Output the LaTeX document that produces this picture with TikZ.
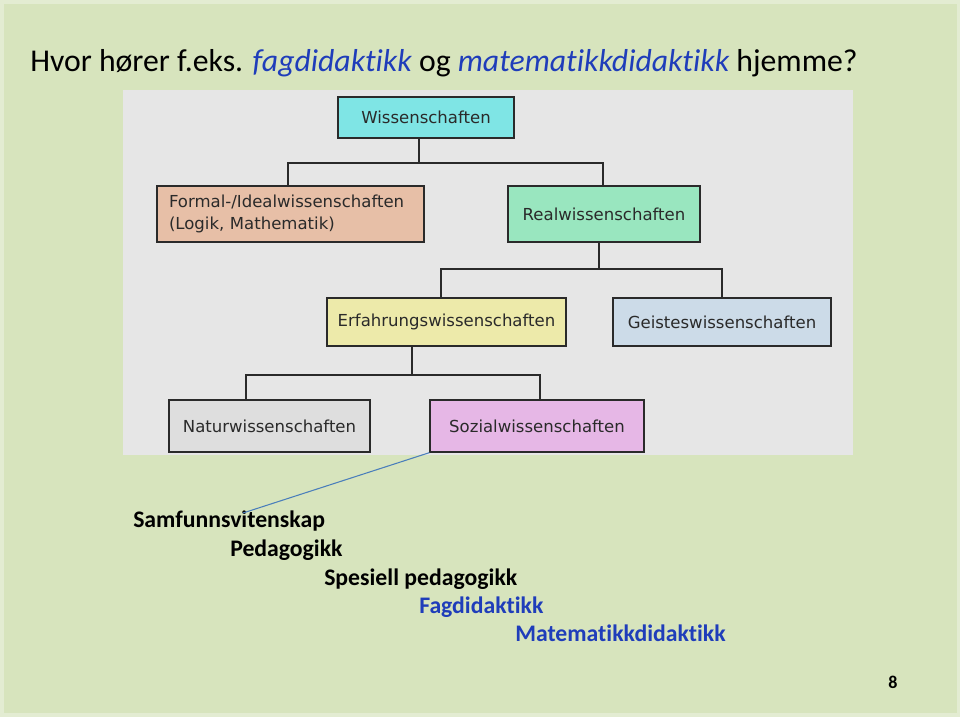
\documentclass[tikz,border=0pt]{standalone}
\usepackage{fontspec}
\setmainfont{Carlito}[Ligatures=NoCommon]
\newfontfamily\boxfont{DejaVu Sans}
\usepackage{xcolor}
\usepackage{tikz}
\usetikzlibrary{positioning}
\definecolor{slide}{HTML}{D7E4BD}
\definecolor{slideedge}{HTML}{E3ECD2}
\definecolor{panel}{HTML}{E6E6E6}
\definecolor{ink}{HTML}{2A2A2A}
\definecolor{blu}{HTML}{1F3DBA}
\definecolor{pointer}{HTML}{4A7EBB}
\definecolor{cwiss}{HTML}{7FE5E5}
\definecolor{cformal}{HTML}{E7BFA7}
\definecolor{creal}{HTML}{99E6BF}
\definecolor{cerf}{HTML}{EDEAAA}
\definecolor{cgeist}{HTML}{CCDBE8}
\definecolor{cnatur}{HTML}{DEDEDE}
\definecolor{csozial}{HTML}{E6B7E6}
\tikzset{
  box/.style={draw=ink, line width=1pt, inner sep=0pt, text=ink,
    font=\boxfont\fontsize{12.4}{16.5}\selectfont},
  link/.style={draw=ink, line width=1pt},
  hint/.style={draw=pointer, line width=0.8pt},
  lev/.style={anchor=base west, inner sep=0pt, font=\bfseries\fontsize{17.8}{20}\selectfont},
}
\begin{document}
\begin{tikzpicture}[x=0.75pt, y=-0.75pt]
\useasboundingbox (0,0) rectangle (960,717);
\fill[slideedge] (0,0) rectangle (960,717);
\fill[slide] (4,4) rectangle (957,713);
\fill[panel] (123,90) rectangle (853,455);
\node[anchor=base west, inner sep=0pt, font=\fontsize{23.8}{28}\selectfont] (title) at (30,72)
  {Hvor hører f.eks. \textcolor{blu}{\itshape fagdidaktikk} og \textcolor{blu}{\itshape matematikkdidaktikk} hjemme?};
\node[box, fill=cwiss, minimum width=132pt, minimum height=30.75pt] (wiss) at (426,117.5) {Wissenschaften};
\node[box, fill=cformal, minimum width=200.25pt, minimum height=42pt, text width=182.25pt, inner xsep=9pt, align=left] (formal) at (290.5,214) {Formal-/Idealwissenschaften\\(Logik, Mathematik)};
\node[box, fill=creal, minimum width=144pt, minimum height=42pt] (real) at (604,214) {Realwissenschaften};
\node[box, fill=cerf, minimum width=179.25pt, minimum height=36pt] (erf) at (446.5,322) {Erfahrungswissenschaften};
\node[box, fill=cgeist, minimum width=163.5pt, minimum height=36pt] (geist) at (722,322) {Geisteswissenschaften};
\node[box, fill=cnatur, minimum width=150.75pt, minimum height=39pt] (natur) at (269.5,426) {Naturwissenschaften};
\node[box, fill=csozial, minimum width=160.5pt, minimum height=39pt] (sozial) at (537,426) {Sozialwissenschaften};
\draw[link] (wiss.south -| 419,0) |- (288,163) -- (288,163 |- formal.north);
\draw[link] (wiss.south -| 419,0) |- (603,163) -- (603,163 |- real.north);
\draw[link] (real.south -| 599,0) |- (441,269) -- (441,269 |- erf.north);
\draw[link] (real.south -| 599,0) |- (722,269) -- (722,269 |- geist.north);
\draw[link] (erf.south -| 412,0) |- (246,375) -- (246,375 |- natur.north);
\draw[link] (erf.south -| 412,0) |- (540,375) -- (540,375 |- sozial.north);
\node[lev] (samf) at (133,527) {Samfunnsvitenskap};
\node[lev] (ped) at (230,556) {Pedagogikk};
\node[lev] (spes) at (324,585) {Spesiell pedagogikk};
\node[lev, text=blu] (fag) at (419,613) {Fagdidaktikk};
\node[lev, text=blu] (mat) at (515,641) {Matematikkdidaktikk};
\coordinate (samftip) at (243,513);
\draw[hint] (sozial.south west) -- (samftip);
\node[anchor=base west, inner sep=0pt, font=\bfseries\fontsize{13.5}{16}\selectfont] (pagenum) at (888,688) {8};
\end{tikzpicture}
\end{document}
